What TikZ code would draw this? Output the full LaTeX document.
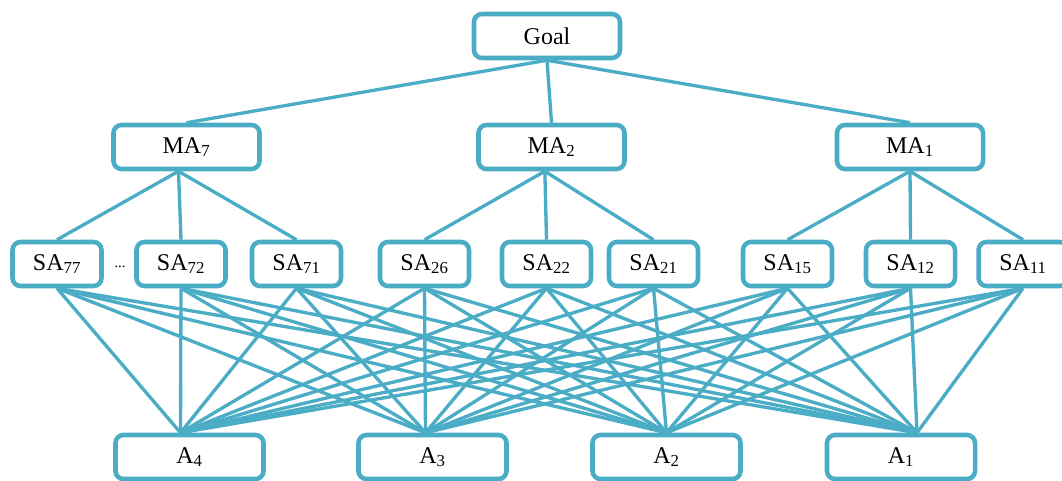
\documentclass[tikz,border=0pt]{standalone}
\usepackage{fontspec}
\setmainfont{Liberation Serif}
\usetikzlibrary{backgrounds}
\definecolor{teal5}{RGB}{75,172,198}
\tikzset{
  box/.style={draw=teal5, line width=3.4pt, rounded corners=6pt, fill=white,
    inner sep=0pt, font=\fontsize{18}{21}\selectfont},
  bigbox/.style={box, minimum width=109.5pt, minimum height=33pt},
  sabox/.style={box, minimum width=66.75pt, minimum height=33pt},
  abox/.style={box, minimum width=111pt, minimum height=33pt},
  link/.style={draw=teal5, line width=2.5pt}
}
\begin{document}
\begin{tikzpicture}[x=0.75pt,y=-0.75pt]
\useasboundingbox (0,0) rectangle (1062,481);
\node[bigbox] (goal) at (547,36) {Goal};
\node[bigbox] (ma7) at (186.5,147) {MA\textsubscript{7}};
\node[bigbox] (ma2) at (551.5,147) {MA\textsubscript{2}};
\node[bigbox] (ma1) at (910,147) {MA\textsubscript{1}};
\node[sabox] (sa77) at (57,264) {SA\textsubscript{77}};
\node[font=\fontsize{11}{12}\selectfont] (dots) at (120,267) {...};
\node[sabox] (sa72) at (181,264) {SA\textsubscript{72}};
\node[sabox] (sa71) at (296.5,264) {SA\textsubscript{71}};
\node[sabox] (sa26) at (424.5,264) {SA\textsubscript{26}};
\node[sabox] (sa22) at (546.5,264) {SA\textsubscript{22}};
\node[sabox] (sa21) at (653.5,264) {SA\textsubscript{21}};
\node[sabox] (sa15) at (787.5,264) {SA\textsubscript{15}};
\node[sabox] (sa12) at (910.5,264) {SA\textsubscript{12}};
\node[sabox] (sa11) at (1023,264) {SA\textsubscript{11}};
\node[abox] (a4) at (189.5,457) {A\textsubscript{4}};
\node[abox] (a3) at (432.5,457) {A\textsubscript{3}};
\node[abox] (a2) at (666.5,457) {A\textsubscript{2}};
\node[abox] (a1) at (901,457) {A\textsubscript{1}};
\begin{scope}[on background layer]
  \foreach \m in {ma7,ma2,ma1} \draw[link] (goal.south) -- (\m.north);
  \foreach \s in {sa77,sa72,sa71} \draw[link] ([xshift=-6pt]ma7.south) -- (\s.north);
  \foreach \s in {sa26,sa22,sa21} \draw[link] ([xshift=-5pt]ma2.south) -- (\s.north);
  \foreach \s in {sa15,sa12,sa11} \draw[link] (ma1.south) -- (\s.north);
  \foreach \s in {sa77,sa72,sa71,sa26,sa22,sa21,sa15,sa12,sa11} {
    \draw[link] (\s.south) -- ([xshift=-6.75pt]a4.north);
    \draw[link] (\s.south) -- ([xshift=-5.25pt]a3.north);
    \draw[link] (\s.south) -- (a2.north);
    \draw[link] (\s.south) -- ([xshift=12pt]a1.north);
  }
\end{scope}
\end{tikzpicture}
\end{document}
